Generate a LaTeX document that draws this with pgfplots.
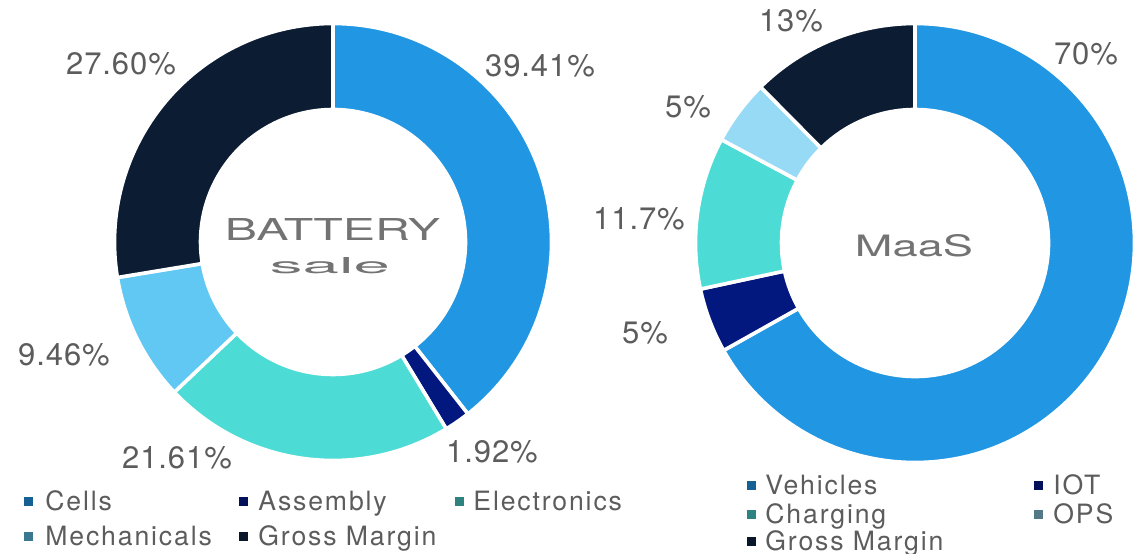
\documentclass[border=0pt]{standalone}
\usepackage{graphicx}
\usepackage{pgfplots}
\usepackage{pgfplotstable}
\pgfplotsset{compat=1.18}
\usepackage{fontspec}
\setmainfont{TeX Gyre Heros}

\definecolor{cBlue}{HTML}{2196E3}
\definecolor{cNavy}{HTML}{03187F}
\definecolor{cTurq}{HTML}{4DDBD5}
\definecolor{cSky}{HTML}{60C8F2}
\definecolor{cPale}{HTML}{97DAF5}
\definecolor{cDark}{HTML}{0B1C33}
\definecolor{txtgray}{HTML}{5C5C5C}
\definecolor{ttlgray}{HTML}{737373}

\colorlet{bat0}{cBlue}
\colorlet{bat1}{cNavy}
\colorlet{bat2}{cTurq}
\colorlet{bat3}{cSky}
\colorlet{bat4}{cDark}
\colorlet{maas0}{cBlue}
\colorlet{maas1}{cNavy}
\colorlet{maas2}{cTurq}
\colorlet{maas3}{cPale}
\colorlet{maas4}{cDark}

\pgfplotstableread[col sep=comma]{
label,value
Cells,39.41
Assembly,1.92
Electronics,21.61
Mechanicals,9.46
Gross Margin,27.60
}\batterydata

\pgfplotstableread[col sep=comma]{
label,value
Vehicles,70
IOT,5
Charging,11.7
OPS,5
Gross Margin,13
}\maasdata

\def\pxunit{0.5}
\gdef\donutcmds{}
\newcommand\builddonut[6]{% #1 table, #2 cx, #3 cy, #4 Ro, #5 Ri, #6 colour prefix
  \pgfplotstablegetrowsof{#1}%
  \pgfmathtruncatemacro\lastrow{\pgfplotsretval-1}%
  \def\donuttotal{0}%
  \pgfplotsforeachungrouped \slicei in {0,...,\lastrow}{%
    \pgfplotstablegetelem{\slicei}{value}\of{#1}%
    \pgfmathsetmacro\donuttotal{\donuttotal+\pgfplotsretval}%
  }%
  \def\donutcum{0}%
  \pgfplotsforeachungrouped \slicei in {0,...,\lastrow}{%
    \pgfplotstablegetelem{\slicei}{value}\of{#1}%
    \pgfmathsetmacro\aA{90-(\donutcum/\donuttotal)*360}%
    \pgfmathsetmacro\donutcum{\donutcum+\pgfplotsretval}%
    \pgfmathsetmacro\aB{90-(\donutcum/\donuttotal)*360}%
    \pgfmathsetmacro\xA{#2+#4*cos(\aA)}%
    \pgfmathsetmacro\yA{#3+#4*sin(\aA)}%
    \pgfmathsetmacro\xB{#2+#5*cos(\aB)}%
    \pgfmathsetmacro\yB{#3+#5*sin(\aB)}%
    \pgfmathsetmacro\RoPt{#4*\pxunit}%
    \pgfmathsetmacro\RiPt{#5*\pxunit}%
    \xdef\donutcmds{\donutcmds
      \noexpand\fill[#6\slicei, draw=white, line width=1.8pt]
      (axis cs:\xA,\yA) arc[start angle=\aA, end angle=\aB, radius=\RoPt pt]
      -- (axis cs:\xB,\yB) arc[start angle=\aB, end angle=\aA, radius=\RiPt pt] -- cycle;}%
  }%
}

\newcommand\pct{\fontsize{15.5}{18}\selectfont\addfontfeature{LetterSpace=3}}
\newcommand\leg{\fontsize{13.3}{15}\selectfont\addfontfeature{LetterSpace=7}}

\begin{document}
\builddonut{\batterydata}{333}{311}{218.5}{132.5}{bat}%
\builddonut{\maasdata}{915}{310}{219.5}{133.5}{maas}%
\begin{tikzpicture}
\begin{axis}[
  name=ax,
  x=0.5pt, y=0.5pt,
  xmin=0, xmax=1148, ymin=0, ymax=553,
  hide axis, clip=false,
]
\donutcmds

% titles
\node[anchor=base, text=ttlgray] at (axis cs:332.5,313) {\resizebox{107.5pt}{11pt}{BATTERY}};
\node[anchor=base, text=ttlgray] at (axis cs:330,280) {\resizebox{60pt}{8pt}{sale}};
\node[anchor=base, text=ttlgray] at (axis cs:914,296) {\resizebox{59pt}{11pt}{MaaS}};

% data labels
\begin{scope}[every node/.style={anchor=base, text=txtgray, font=\pct, inner sep=0pt}]
\node at (axis cs:540,476) {39.41\%};
\node at (axis cs:492,91) {1.92\%};
\node at (axis cs:177,85) {21.61\%};
\node at (axis cs:64,188) {9.46\%};
\node at (axis cs:121,478) {27.60\%};
\node at (axis cs:1086,488) {70\%};
\node at (axis cs:645,210) {5\%};
\node at (axis cs:639,323) {11.7\%};
\node at (axis cs:688,435) {5\%};
\node at (axis cs:791,521) {13\%};
\end{scope}

% legends
\begin{scope}[every node/.style={anchor=base west, text=txtgray, font=\leg, inner sep=0pt}]
\node at (axis cs:45,43) {Cells};
\node at (axis cs:258,43) {Assembly};
\node at (axis cs:473,43) {Electronics};
\node at (axis cs:45,8) {Mechanicals};
\node at (axis cs:258,8) {Gross Margin};
\node at (axis cs:765,59) {Vehicles};
\node at (axis cs:1053,59) {IOT};
\node at (axis cs:765,30) {Charging};
\node at (axis cs:1053,30) {OPS};
\node at (axis cs:765,3) {Gross Margin};
\end{scope}
\begin{scope}[every node/.style={minimum size=4.5pt, inner sep=0pt, draw=none}]
\node[fill=cBlue!65!black] at (axis cs:28,52) {};
\node[fill=cNavy!70!black] at (axis cs:243,52) {};
\node[fill=cTurq!60!black] at (axis cs:459,52) {};
\node[fill=cSky!60!black] at (axis cs:28,17) {};
\node[fill=cDark!80!black] at (axis cs:243,17) {};
\node[fill=cBlue!65!black] at (axis cs:751,68) {};
\node[fill=cNavy!70!black] at (axis cs:1038,68) {};
\node[fill=cTurq!60!black] at (axis cs:751,39) {};
\node[fill=cPale!55!black] at (axis cs:1038,39) {};
\node[fill=cDark!80!black] at (axis cs:751,12) {};
\end{scope}
\end{axis}
\pgfresetboundingbox
\useasboundingbox (ax.south west) rectangle (ax.north east);
\end{tikzpicture}
\end{document}
